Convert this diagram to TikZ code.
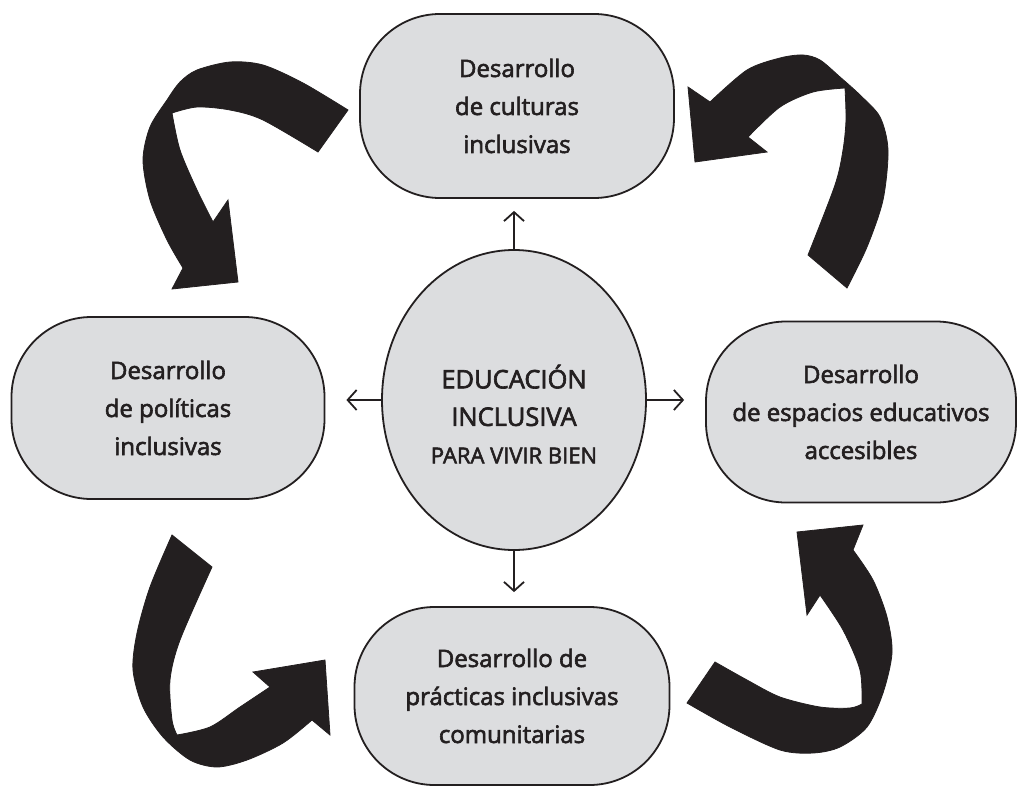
\documentclass[tikz,border=0pt]{standalone}
\usepackage{fontspec}
\setmainfont{Open Sans}
\newfontfamily\lblfont{Open Sans}[FakeBold=2.5]
\usetikzlibrary{shapes.geometric,arrows.meta}
\definecolor{boxfill}{RGB}{220,221,223}
\definecolor{ink}{RGB}{35,31,32}
\begin{document}
\begin{tikzpicture}[x=1pt,y=-1pt,
  box/.style={draw=ink, line width=1.8pt, fill=boxfill, rounded corners=80pt,
    minimum width=314pt, minimum height=184pt, align=center,
    font=\lblfont\fontsize{24}{38}\selectfont, text=ink, inner sep=0pt},
  hub/.style={draw=ink, line width=1.8pt, fill=boxfill, ellipse,
    minimum width=264pt, minimum height=300pt, inner sep=0pt},
  hubtext/.style={align=center, text=ink, inner sep=0pt,
    font=\lblfont\fontsize{25.5}{37.5}\selectfont},
  thinarrow/.style={draw=ink, line width=1.8pt, -{Straight Barb[length=9pt,width=20pt,line width=1.8pt]}},
  bigarrow/.style={fill=ink, draw=ink, line width=0.8pt, line join=miter}]
\useasboundingbox (0,0) rectangle (1017,789);
\fill[white] (0,0) rectangle (1017,789);

% big curved arrows
\path[bigarrow] plot[smooth] coordinates {(348,110)(303,83)(263,65)(230,62)(197,70)(180,82)(167,100)(150,127)(143,160)(150,200)(167,240)(183,268)}
  -- (172,289) -- (238,282) -- (228,200) -- (213,222)
  -- plot[smooth] coordinates {(213,222)(197,190)(180,150)(172,113)}
  -- plot[smooth] coordinates {(172,113)(197,107)(230,110)(263,120)(318,152)} -- cycle;

\path[bigarrow] plot[smooth] coordinates {(847,288)(867,247)(883,200)(888,150)(880,117)(860,95)(840,77)(820,60)(803,55)(780,58)(747,70)(710,102)}
  -- (688,87) -- (695,162) -- (767,152) -- (748,137)
  -- plot[smooth] coordinates {(748,137)(780,107)(813,92)(845,88)}
  -- plot[smooth] coordinates {(845,88)(846,120)(843,150)(835,185)(808,255)} -- cycle;

\path[bigarrow] plot[smooth] coordinates {(172,535)(150,587)(137,633)(133,670)(143,707)(163,737)(190,760)(217,767)(247,760)(283,743)(312,720)}
  -- (330,735) -- (325,660) -- (253,672) -- (270,687)
  -- plot[smooth] coordinates {(270,687)(240,707)(210,727)(177,735)}
  -- plot[smooth] coordinates {(177,735)(172,720)(170,680)(180,640)(212,567)} -- cycle;

\path[bigarrow] plot[smooth] coordinates {(687,703)(730,727)(780,750)(813,753)(840,747)(867,727)(883,693)(892,653)(887,617)(873,580)(853,550)}
  -- (863,525) -- (797,532) -- (807,615) -- (820,595)
  -- plot[smooth] coordinates {(820,595)(843,630)(860,670)(862,704)}
  -- plot[smooth] coordinates {(862,704)(850,708)(820,707)(780,697)(747,680)(715,662)} -- cycle;

% nodes
\node[box] (top) at (517,106) {Desarrollo\\de culturas\\inclusivas};
\node[box, minimum width=313pt, minimum height=182pt] (left) at (168,408) {Desarrollo\\de políticas\\inclusivas};
\node[box, minimum width=310pt, minimum height=181pt] (right) at (861,412) {Desarrollo\\de espacios educativos\\accesibles};
\node[box, minimum width=315pt, minimum height=178pt] (bottom) at (512,696) {Desarrollo de\\prácticas inclusivas\\comunitarias};
\node[hub] (c) at (514,400) {};
\node[hubtext] (ct) at (514,414) {EDUCACIÓN\\INCLUSIVA\\{\fontsize{22}{24}\selectfont PARA VIVIR BIEN}};

% thin arrows
\draw[thinarrow, shorten >=12pt] (c.north) -- (c.north |- top.south);
\draw[thinarrow, shorten >=14pt] (c.south) -- (c.south |- bottom.north);
\draw[thinarrow, shorten >=21pt] (c.west) -- (c.west -| left.east);
\draw[thinarrow, shorten >=21pt] (c.east) -- (c.east -| right.west);
\end{tikzpicture}
\end{document}
